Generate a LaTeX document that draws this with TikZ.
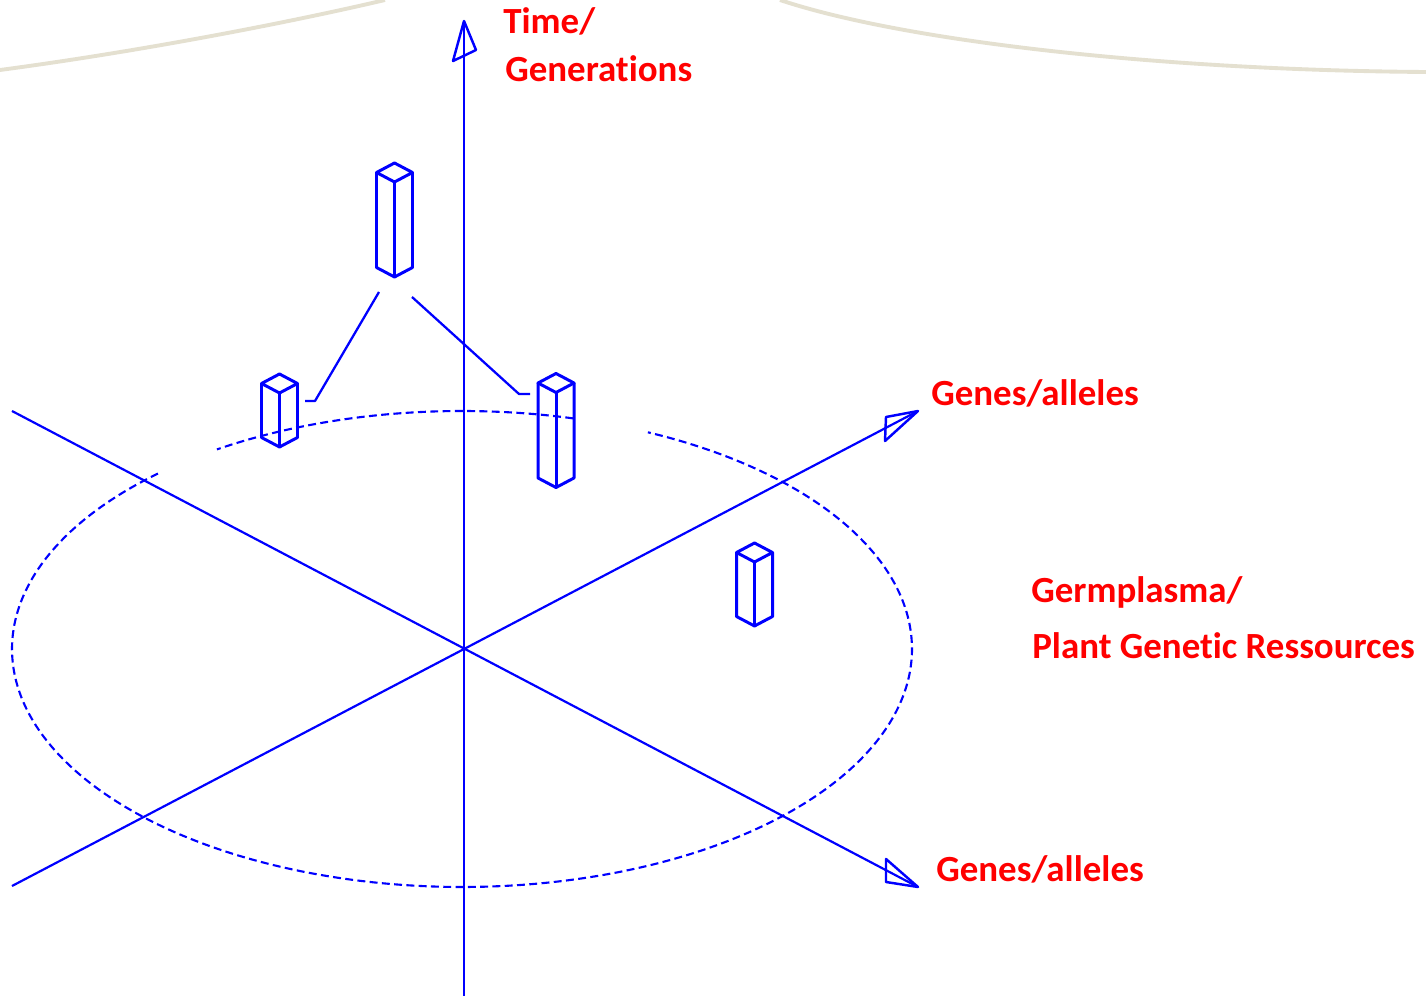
\documentclass[tikz,border=0pt]{standalone}
\usepackage{fontspec}
\setmainfont{Carlito}[Ligatures={NoCommon,NoContextual}]
\begin{document}
\begin{tikzpicture}[x=0.02cm, y=-0.02cm,
  axis/.style={draw=blue, line width=1.25pt},
  tip/.style={draw=blue, line width=1.4pt, line join=round},
  ring/.style={draw=blue, line width=1.2pt, dash pattern=on 4.5pt off 2.5pt},
  prism/.style={draw=blue, line width=1.7pt, line join=round},
  link/.style={draw=blue, line width=1.3pt},
  lbl/.style={text=red, font=\fontsize{21}{25}\selectfont\bfseries, anchor=base west, inner sep=0pt},
  hill/.style={draw=beige, line width=2.2pt}]
\definecolor{beige}{HTML}{E4E0D0}
\useasboundingbox (0,0) rectangle (1426,996);
\fill[white] (0,0) rectangle (1426,996);

% decorative rim at the top
\draw[hill] (0,70) .. controls (150,50) and (300,20) .. (385,0);
\draw[hill] (780,0) .. controls (900,40) and (1150,70) .. (1426,72);

% axes
\coordinate (O) at (464,649);
\coordinate (vb) at (464,996);
\coordinate (vt) at (464,21);
\coordinate (ua) at (12,886);
\coordinate (ub) at (918,411);
\coordinate (da) at (12,411);
\coordinate (db) at (918,887);
\draw[axis] (vb) -- (vt);
\draw[axis] (ua) -- (ub);
\draw[axis] (da) -- (db);
\draw[tip] (vt) -- (453,61) -- (476,50) -- cycle;
\draw[tip] (ub) -- (886,417) -- (885,441) -- cycle;
\draw[tip] (db) -- (886,859) -- (886,882) -- cycle;

% dashed ring in the ground plane
\draw[ring] plot[smooth, samples=120, domain=132.5:425.6]
  ({462+450*cos(\x)}, {649-238*sin(\x)});
\draw[ring] plot[smooth, samples=40, domain=75.7:123]
  ({462+450*cos(\x)}, {649-238*sin(\x)});

% isometric prisms: front-top corner and height
\newcommand{\prismat}[4]{%
  \coordinate (#1) at (#2,#3);
  \draw[prism] (#2-18,#3-9.5) -- (#2,#3-19) -- (#2+18,#3-9.5) -- (#2,#3) -- cycle;
  \draw[prism] (#2-18,#3-9.5) -- (#2-18,#3-9.5+#4) -- (#2,#3+#4) -- (#2+18,#3-9.5+#4) -- (#2+18,#3-9.5);
  \draw[prism] (#2,#3) -- (#2,#3+#4);
}
\prismat{pa}{394.5}{182}{95}
\prismat{pb}{279.5}{393}{54}
\prismat{pc}{556}{392.5}{95}
\prismat{pd}{754.5}{562}{64}

% links from the upper prism to the two below
\coordinate (la0) at (379,292);
\coordinate (la1) at (315,401);
\coordinate (la2) at (305,401);
\coordinate (lb0) at (412,297);
\coordinate (lb1) at (519,394);
\coordinate (lb2) at (530,394);
\draw[link, line join=round] (la0) -- (la1) -- (la2);
\draw[link, line join=round] (lb0) -- (lb1) -- (lb2);

% labels
\node[lbl] (t1) at (503,34) {Time/};
\node[lbl] (t2) at (505,82) {Generations};
\node[lbl] (g1) at (931,406) {Genes/alleles};
\node[lbl] (g2) at (936,881) {Genes/alleles};
\node[lbl] (p1) at (1031,602) {Germplasma/};
\node[lbl] (p2) at (1032,658) {Plant Genetic Ressources};
\end{tikzpicture}
\end{document}
